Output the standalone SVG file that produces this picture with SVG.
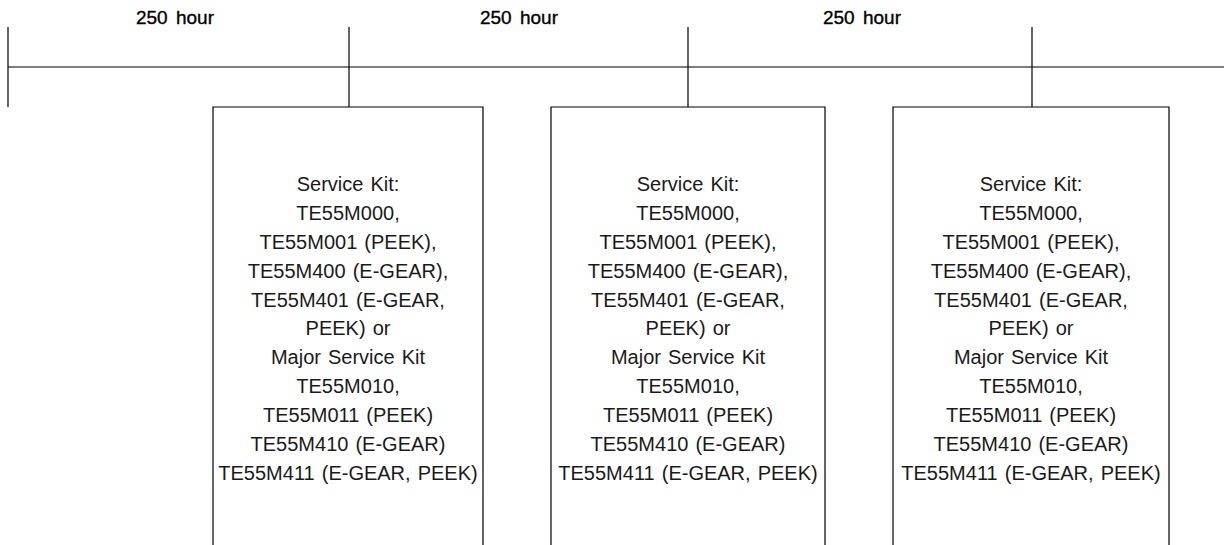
<svg xmlns="http://www.w3.org/2000/svg" width="1224" height="545" viewBox="0 0 1224 545">
<style>
.ln{stroke:#000;stroke-width:1.2;fill:none}
.box{stroke:#000;stroke-width:1.2;fill:#fff}
.hdr{font-family:"Liberation Sans",Arial,sans-serif;font-size:19px;fill:#000;stroke:#000;stroke-width:0.35;text-anchor:middle;word-spacing:3px}
.t{font-family:"Liberation Sans",Arial,sans-serif;font-size:20px;fill:#1a1a1a;text-anchor:middle;word-spacing:1.5px}
</style>
<rect width="1224" height="545" fill="#fff"/>
<g id="connectors">
<line class="ln" x1="8" y1="67" x2="1224" y2="67"/>
<line class="ln" x1="8" y1="27" x2="8" y2="107"/>
<line class="ln" x1="349" y1="27" x2="349" y2="107"/>
<line class="ln" x1="688" y1="27" x2="688" y2="107"/>
<line class="ln" x1="1032" y1="27" x2="1032" y2="107"/>
</g>
<g id="labels">
<text class="hdr" x="175" y="24">250 hour</text>
<text class="hdr" x="519" y="24">250 hour</text>
<text class="hdr" x="862" y="24">250 hour</text>
</g>
<defs>
<g id="kit">
<text class="t" y="191">Service Kit:</text>
<text class="t" y="220">TE55M000,</text>
<text class="t" y="249">TE55M001 (PEEK),</text>
<text class="t" y="278">TE55M400 (E-GEAR),</text>
<text class="t" y="307">TE55M401 (E-GEAR,</text>
<text class="t" y="335">PEEK) or</text>
<text class="t" y="364">Major Service Kit</text>
<text class="t" y="393">TE55M010,</text>
<text class="t" y="422">TE55M011 (PEEK)</text>
<text class="t" y="451">TE55M410 (E-GEAR)</text>
<text class="t" y="480">TE55M411 (E-GEAR, PEEK)</text>
</g>
</defs>
<g id="box1">
<path class="box" d="M213,546 V107 H483 V546"/>
<use href="#kit" x="348" y="0"/>
</g>
<g id="box2">
<path class="box" d="M551,546 V107 H825 V546"/>
<use href="#kit" x="688" y="0"/>
</g>
<g id="box3">
<path class="box" d="M893,546 V107 H1169 V546"/>
<use href="#kit" x="1031" y="0"/>
</g>
</svg>
